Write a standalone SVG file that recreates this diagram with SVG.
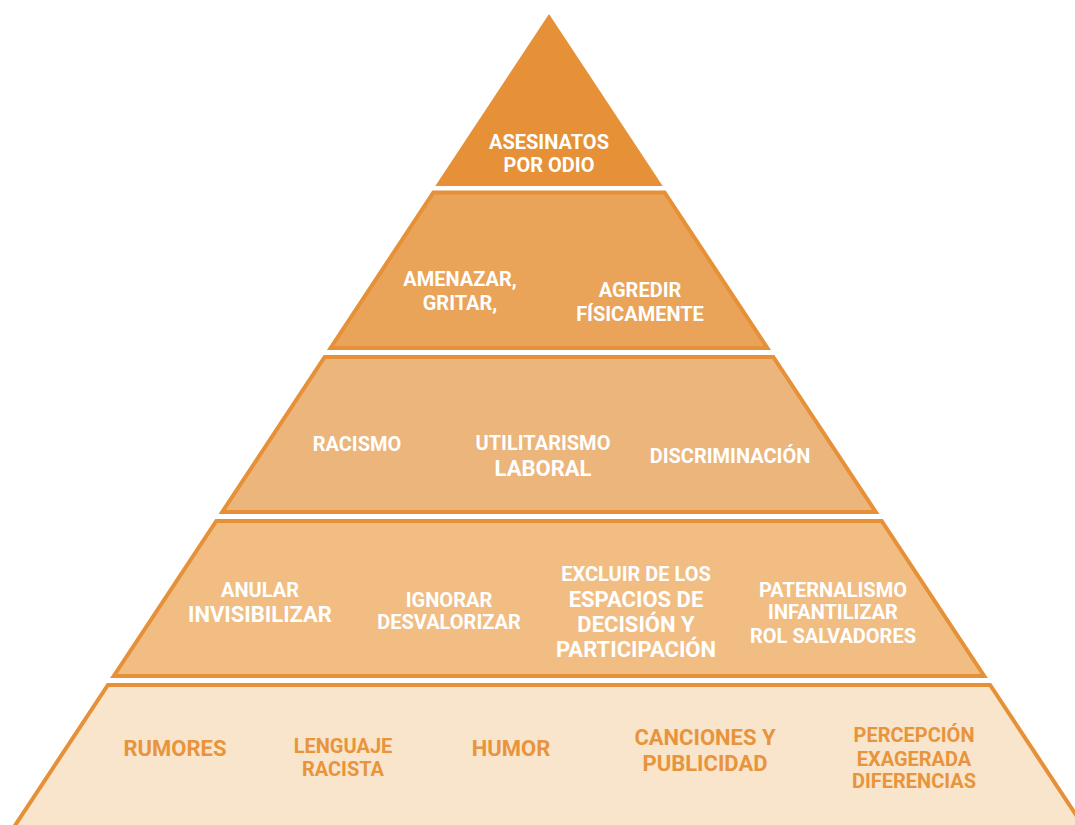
<svg xmlns="http://www.w3.org/2000/svg" width="1075" height="825" viewBox="0 0 1075 825">
<style>
.lbl{font-family:Roboto,"Liberation Sans",Arial,sans-serif;font-weight:700;text-anchor:middle;font-size:20px}
.w{fill:#ffffff}
.o{fill:#E8943D}
.big{font-size:22px}
.tier{stroke:#E69138;stroke-width:4;stroke-linejoin:miter}
</style>
<rect width="1075" height="825" fill="#ffffff"/>
<g id="tier1">
<polygon points="549,14 662.7,186 435.3,186" fill="#E69138"/>
<text class="lbl w" x="549" y="149">ASESINATOS</text>
<text class="lbl w" x="549" y="172">POR ODIO</text>
</g>
<g id="tier2">
<polygon class="tier" points="433.4,192.5 664.6,192.5 767.4,348 330.6,348" fill="#E9A459"/>
<text class="lbl w" x="460" y="286">AMENAZAR,</text>
<text class="lbl w" x="460" y="310">GRITAR,</text>
<text class="lbl w" x="640" y="297">AGREDIR</text>
<text class="lbl w" x="640" y="321">FÍSICAMENTE</text>
</g>
<g id="tier3">
<polygon class="tier" points="324.7,357 773.3,357 875.8,512 222.2,512" fill="#ECB57C"/>
<text class="lbl w" x="357" y="451">RACISMO</text>
<text class="lbl w" x="543" y="450">UTILITARISMO</text>
<text class="lbl w big" x="543" y="476">LABORAL</text>
<text class="lbl w" x="730" y="463">DISCRIMINACIÓN</text>
</g>
<g id="tier4">
<polygon class="tier" points="216.3,521 881.7,521 984.2,676 113.8,676" fill="#F1BD83"/>
<text class="lbl w" x="260" y="597">ANULAR</text>
<text class="lbl w big" x="260" y="622">INVISIBILIZAR</text>
<text class="lbl w" x="449" y="607">IGNORAR</text>
<text class="lbl w" x="449" y="629">DESVALORIZAR</text>
<text class="lbl w" x="636" y="581">EXCLUIR DE LOS</text>
<text class="lbl w big" x="636" y="607">ESPACIOS DE</text>
<text class="lbl w big" x="636" y="632">DECISIÓN Y</text>
<text class="lbl w big" x="636" y="657">PARTICIPACIÓN</text>
<text class="lbl w" x="833" y="597">PATERNALISMO</text>
<text class="lbl w" x="833" y="619">INFANTILIZAR</text>
<text class="lbl w" x="833" y="643">ROL SALVADORES</text>
</g>
<g id="tier5">
<polygon class="tier" points="107.9,685 990.1,685 1092.6,840 5.4,840" fill="#F8E5CB"/>
<text class="lbl o big" x="175" y="756">RUMORES</text>
<text class="lbl o" x="343" y="753">LENGUAJE</text>
<text class="lbl o" x="343" y="776">RACISTA</text>
<text class="lbl o big" x="511" y="756">HUMOR</text>
<text class="lbl o big" x="705" y="745">CANCIONES Y</text>
<text class="lbl o big" x="705" y="771">PUBLICIDAD</text>
<text class="lbl o" x="914" y="742">PERCEPCIÓN</text>
<text class="lbl o" x="914" y="766">EXAGERADA</text>
<text class="lbl o" x="914" y="788">DIFERENCIAS</text>
</g>
<g id="connectors"/>
</svg>
